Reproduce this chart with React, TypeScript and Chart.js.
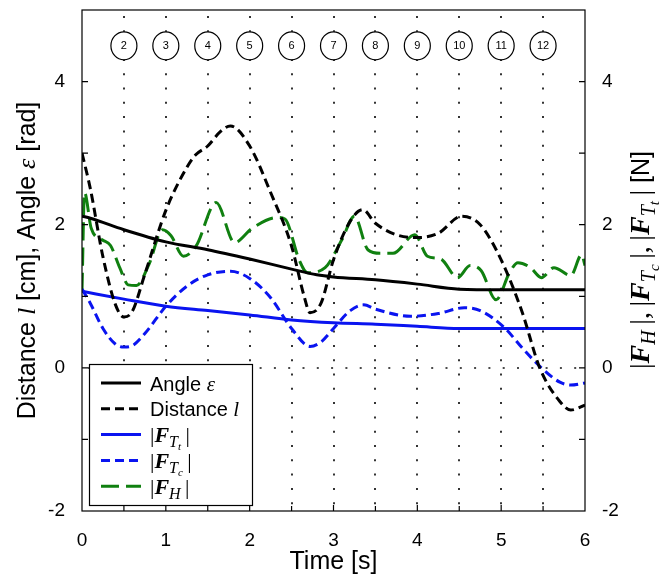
import React, { useEffect, useRef } from 'react';
import { Chart, registerables } from 'chart.js';
Chart.register(...registerables);

const W = 670, H = 578;
const SANS = '"Liberation Sans", Arial, Helvetica, sans-serif';
const SERIF = '"Liberation Serif", "DejaVu Serif", "Times New Roman", serif';

// ---- data ----
const xTickLabels = [0, 1, 2, 3, 4, 5, 6];
const yTickLabels = [-2, 0, 2, 4];
const markerTimes = [0.5, 1, 1.5, 2, 2.5, 3, 3.5, 4, 4.5, 5, 5.5];
const markerLabels = ['2', '3', '4', '5', '6', '7', '8', '9', '10', '11', '12'];

const angleT = [0, 0.1, 0.5, 1, 1.5, 2, 2.5, 2.8, 3, 3.5, 4, 4.5, 5, 6];
const angleV = [2.12, 2.09, 1.93, 1.76, 1.65, 1.52, 1.38, 1.3, 1.27, 1.23, 1.17, 1.1, 1.09, 1.09];

const distT = [0, 0.1, 0.25, 0.4, 0.5, 0.6, 0.75, 1, 1.25, 1.35, 1.5, 1.65, 1.77, 2.0, 2.25, 2.5, 2.65, 2.72, 2.85, 3, 3.2, 3.35, 3.5, 3.75, 4, 4.25, 4.53, 4.75, 5, 5.25, 5.46, 5.7, 5.83, 6];
const distV = [3.0, 2.5, 1.55, 0.88, 0.71, 0.79, 1.31, 2.2, 2.8, 2.97, 3.1, 3.3, 3.38, 3.1, 2.45, 1.7, 1.0, 0.77, 0.9, 1.51, 2.05, 2.21, 2.02, 1.86, 1.82, 1.88, 2.12, 2.0, 1.51, 0.78, 0.0, -0.47, -0.59, -0.52];

const ftT = [0, 0.5, 1, 1.5, 2, 2.5, 3, 3.5, 4, 4.5, 5, 6];
const ftV = [1.07, 0.96, 0.86, 0.8, 0.74, 0.67, 0.63, 0.61, 0.58, 0.55, 0.55, 0.55];

const fcT = [0, 0.1, 0.25, 0.4, 0.5, 0.6, 0.75, 1, 1.25, 1.5, 1.77, 2.0, 2.25, 2.5, 2.72, 2.85, 3.0, 3.2, 3.36, 3.5, 3.92, 4.25, 4.56, 4.75, 5.04, 5.25, 5.48, 5.7, 5.83, 6];
const fcV = [1.1, 0.9, 0.55, 0.33, 0.29, 0.31, 0.48, 0.86, 1.14, 1.3, 1.35, 1.25, 0.98, 0.55, 0.3, 0.36, 0.55, 0.8, 0.88, 0.82, 0.72, 0.76, 0.84, 0.8, 0.56, 0.28, 0.0, -0.2, -0.24, -0.21];

const fhT = [0, 0.03, 0.11, 0.24, 0.34, 0.45, 0.55, 0.65, 0.8, 0.96, 1.06, 1.21, 1.36, 1.6, 1.82, 2.03, 2.33, 2.42, 2.59, 2.69, 2.9, 3.1, 3.25, 3.41, 3.56, 3.71, 3.97, 4.12, 4.28, 4.48, 4.63, 4.76, 4.94, 5.1, 5.2, 5.35, 5.48, 5.63, 5.83, 5.96, 6];
const fhV = [1.08, 2.45, 1.95, 1.79, 1.71, 1.4, 1.16, 1.15, 1.45, 1.93, 1.85, 1.56, 1.7, 2.31, 1.75, 1.95, 2.1, 2.08, 1.51, 1.33, 1.4, 1.79, 2.12, 1.65, 1.6, 1.6, 1.86, 1.56, 1.52, 1.26, 1.43, 1.36, 0.95, 1.33, 1.47, 1.4, 1.26, 1.4, 1.29, 1.58, 1.43];

const BLUE = '#0a14f0';
const GREEN = '#108010';

type Seg = { t: string; f: string; dy?: number };
function richWidth(ctx: CanvasRenderingContext2D, segs: Seg[]) {
  let w = 0;
  for (const s of segs) { ctx.font = s.f; w += ctx.measureText(s.t).width; }
  return w;
}
function drawRich(ctx: CanvasRenderingContext2D, segs: Seg[], x: number, y: number, center: boolean) {
  let cx = center ? x - richWidth(ctx, segs) / 2 : x;
  ctx.textBaseline = 'alphabetic';
  ctx.textAlign = 'left';
  for (const s of segs) {
    ctx.font = s.f;
    ctx.fillText(s.t, cx, y + (s.dy || 0));
    cx += ctx.measureText(s.t).width;
  }
}
function absF(S: number, sub: string, subsub?: string): Seg[] {
  const segs: Seg[] = [
    { t: '|', f: `${S}px ${SERIF}` },
    { t: 'F', f: `italic bold ${S}px ${SERIF}` },
    { t: sub, f: `italic ${Math.round(S * 0.72)}px ${SERIF}`, dy: S * 0.22 },
  ];
  if (subsub) segs.push({ t: subsub, f: `italic ${Math.round(S * 0.52)}px ${SERIF}`, dy: S * 0.36 });
  segs.push({ t: '\u2009|', f: `${S}px ${SERIF}` });
  return segs;
}

function mk(t: number[], v: number[]) { return t.map((x, i) => ({ x, y: v[i] })); }

const overlay = {
  id: 'overlay',
  beforeDatasetsDraw(chart: any) {
    const { ctx, chartArea: a, scales } = chart;
    const xs = scales.x, ys = scales.y;
    ctx.save();
    ctx.strokeStyle = '#111';
    ctx.lineWidth = 1.7;
    ctx.setLineDash([2, 12.3]);
    for (const t of markerTimes) {
      const px = Math.round(xs.getPixelForValue(t));
      ctx.beginPath(); ctx.moveTo(px, a.top + 6); ctx.lineTo(px, a.bottom); ctx.stroke();
    }
    const py0 = Math.round(ys.getPixelForValue(0));
    ctx.beginPath(); ctx.moveTo(a.left + 6, py0); ctx.lineTo(a.right, py0); ctx.stroke();
    ctx.setLineDash([]);
    const my = ys.getPixelForValue(4.5);
    markerTimes.forEach((t, i) => {
      const px = xs.getPixelForValue(t);
      ctx.beginPath();
      ctx.ellipse(px, my, 13, 14, 0, 0, Math.PI * 2);
      ctx.fillStyle = '#fff'; ctx.fill();
      ctx.strokeStyle = '#000'; ctx.lineWidth = 1.2; ctx.stroke();
      ctx.fillStyle = '#000';
      ctx.font = `11px ${SANS}`;
      ctx.textAlign = 'center'; ctx.textBaseline = 'middle';
      ctx.fillText(markerLabels[i], px, my + 0.5);
    });
    ctx.restore();
  },
  afterDatasetsDraw(chart: any) {
    const { ctx, chartArea: a, scales } = chart;
    const xs = scales.x, ys = scales.y;
    ctx.save();
    ctx.strokeStyle = '#000'; ctx.lineWidth = 1.2;
    ctx.strokeRect(a.left, a.top, a.right - a.left, a.bottom - a.top);
    ctx.beginPath();
    for (let t = 0.5; t < 6; t += 0.5) {
      const px = xs.getPixelForValue(t);
      const len = Number.isInteger(t) ? 6 : 5;
      ctx.moveTo(px, a.bottom); ctx.lineTo(px, a.bottom - len);
    }
    for (let v = -1; v <= 4; v += 1) {
      const py = ys.getPixelForValue(v);
      ctx.moveTo(a.left, py); ctx.lineTo(a.left + 6, py);
      ctx.moveTo(a.right, py); ctx.lineTo(a.right - 6, py);
    }
    ctx.stroke();
    // legend
    const lx = 89, ly = 364, lw = 163, lh = 141;
    ctx.fillStyle = '#fff';
    ctx.fillRect(lx, ly, lw, lh);
    ctx.strokeStyle = '#000'; ctx.lineWidth = 1.2;
    ctx.strokeRect(lx + 0.5, ly + 0.5, lw, lh);
    const rows: { c: string; d: number[]; label: Seg[] }[] = [
      { c: '#000', d: [], label: [{ t: 'Angle ', f: `20px ${SANS}` }, { t: '\u03b5', f: `italic 21px ${SERIF}` }] },
      { c: '#000', d: [9, 5], label: [{ t: 'Distance ', f: `20px ${SANS}` }, { t: 'l', f: `italic 21px ${SERIF}` }] },
      { c: BLUE, d: [], label: absF(22, 'T', 't') },
      { c: BLUE, d: [9, 5], label: absF(22, 'T', 'c') },
      { c: GREEN, d: [18, 7], label: absF(22, 'H') },
    ];
    rows.forEach((r, i) => {
      const cy = 383 + i * 25.8;
      ctx.strokeStyle = r.c; ctx.lineWidth = 3;
      ctx.setLineDash(r.d);
      ctx.beginPath(); ctx.moveTo(101, cy); ctx.lineTo(141, cy); ctx.stroke();
      ctx.setLineDash([]);
      ctx.fillStyle = '#000';
      drawRich(ctx, r.label, 150, cy + 7.5, false);
    });
    // axis titles
    ctx.fillStyle = '#000';
    drawRich(ctx, [{ t: 'Time [s]', f: `25px ${SANS}` }], (a.left + a.right) / 2, 569, true);
    ctx.save();
    ctx.translate(35, (a.top + a.bottom) / 2);
    ctx.rotate(-Math.PI / 2);
    drawRich(ctx, [
      { t: 'Distance ', f: `25px ${SANS}` },
      { t: 'l', f: `italic 26px ${SERIF}` },
      { t: ' [cm], Angle ', f: `25px ${SANS}` },
      { t: '\u03b5', f: `italic 26px ${SERIF}` },
      { t: ' [rad]', f: `25px ${SANS}` },
    ], 0, 0, true);
    ctx.restore();
    ctx.save();
    ctx.translate(649, 260);
    ctx.rotate(-Math.PI / 2);
    const comma: Seg = { t: ',\u2009', f: `28px ${SERIF}` };
    drawRich(ctx, [
      ...absF(28, 'H'), comma,
      ...absF(28, 'T', 'c'), comma,
      ...absF(28, 'T', 't'),
      { t: ' [N]', f: `25px ${SANS}` },
    ], 0, 0, true);
    ctx.restore();
    ctx.restore();
  },
};

export default function App() {
  const ref = useRef<HTMLCanvasElement>(null);
  useEffect(() => {
    if (!ref.current) return;
    const tickFont = { family: SANS, size: 19 };
    const yAxis = (pos: 'left' | 'right', width: number) => ({
      type: 'linear', position: pos, min: -2, max: 5,
      afterBuildTicks: (s: any) => { s.ticks = yTickLabels.map((v) => ({ value: v })); },
      afterFit: (s: any) => { s.width = width; s.paddingTop = 0; s.paddingBottom = 0; },
      grid: { display: false }, border: { display: false },
      ticks: { font: tickFont, color: '#000', padding: 9 },
    });
    const chart = new Chart(ref.current, {
      type: 'line',
      data: {
        datasets: [
          { data: mk(angleT, angleV), borderColor: '#000', borderWidth: 3 },
          { data: mk(distT, distV), borderColor: '#000', borderWidth: 3, borderDash: [9, 5] },
          { data: mk(ftT, ftV), borderColor: BLUE, borderWidth: 3 },
          { data: mk(fcT, fcV), borderColor: BLUE, borderWidth: 3, borderDash: [9, 5] },
          { data: mk(fhT, fhV), borderColor: GREEN, borderWidth: 3, borderDash: [18, 7] },
        ].map((d: any) => ({ ...d, pointRadius: 0, fill: false, cubicInterpolationMode: 'monotone', yAxisID: 'y' })),
      },
      options: {
        animation: false,
        responsive: false,
        maintainAspectRatio: false,
        layout: { padding: { top: 10, left: 0, right: 0, bottom: 0 } },
        plugins: { legend: { display: false }, tooltip: { enabled: false } },
        scales: {
          x: {
            type: 'linear', min: 0, max: 6,
            afterBuildTicks: (s: any) => { s.ticks = xTickLabels.map((v) => ({ value: v })); },
            afterFit: (s: any) => { s.height = 67; s.paddingLeft = 0; s.paddingRight = 0; },
            grid: { display: false }, border: { display: false },
            ticks: { font: tickFont, color: '#000', padding: 10, maxRotation: 0, autoSkip: false },
          },
          y: yAxis('left', 82),
          y2: yAxis('right', 85),
        } as any,
      },
      plugins: [overlay],
    } as any);
    return () => chart.destroy();
  }, []);
  return (
    <div style={{ position: 'fixed', left: 0, top: 0, width: W, height: H, background: '#fff' }}>
      <canvas ref={ref} width={W} height={H} style={{ width: W, height: H, display: 'block' }} />
    </div>
  );
}
